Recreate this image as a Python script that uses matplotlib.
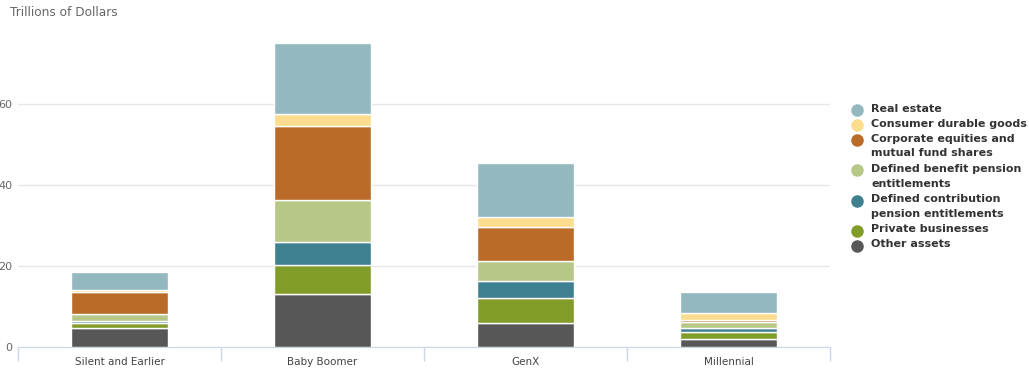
import numpy as np
import matplotlib.pyplot as plt

generations = ['Silent and Earlier', 'Baby Boomer', 'GenX', 'Millennial']

# trillions of dollars, stacked bottom to top
other_assets = [4.7, 13.2, 5.9, 2.0]
private_business = [1.2, 7.0, 6.2, 1.7]
dc_pension = [0.5, 5.7, 4.3, 1.0]
db_pension = [1.7, 10.4, 5.0, 1.5]
corp_equities = [5.5, 18.3, 8.4, 0.6]
durable_goods = [0.6, 2.9, 2.3, 1.6]
real_estate = [4.4, 17.7, 13.5, 5.3]

series = [
    ('Other assets', other_assets, '#575757'),
    ('Private businesses', private_business, '#829c2a'),
    ('Defined contribution\npension entitlements', dc_pension, '#3e8090'),
    ('Defined benefit pension\nentitlements', db_pension, '#b7c787'),
    ('Corporate equities and\nmutual fund shares', corp_equities, '#b96b27'),
    ('Consumer durable goods', durable_goods, '#fcdd8e'),
    ('Real estate', real_estate, '#93b8c0'),
]

W, H = 1029, 370
fig = plt.figure(figsize=(W / 100, H / 100), dpi=100)
ax = fig.add_axes([18 / W, (H - 347.3) / H, (830 - 18) / W, (347.3 - 39.5) / H])

x = np.arange(len(generations))
bottom = np.zeros(len(generations))
for name, vals, col in series:
    ax.bar(x, vals, bottom=bottom, width=0.48, color=col, edgecolor='white', linewidth=1, zorder=3)
    bottom += np.array(vals)

ax.set_xlim(-0.5, len(generations) - 0.5)
ax.set_ylim(0, 76)
ax.set_yticks([0, 20, 40, 60])
ax.grid(axis='y', color='#e6e6e6', linewidth=1, zorder=0)
for s in ['top', 'right', 'left']:
    ax.spines[s].set_visible(False)
ax.spines['bottom'].set_color('#ccd6eb')
ax.set_xticks(x)
ax.set_xticklabels(generations, fontsize=7.5, color='#444444')
ax.set_xticks(np.arange(-0.5, len(generations)), minor=True)
ax.tick_params(axis='x', which='major', length=0, pad=7)
ax.tick_params(axis='x', which='minor', length=10, color='#ccd6eb', width=1)
ax.tick_params(axis='y', length=0, labelsize=8, labelcolor='#666666', pad=4)

fig.text(10 / W, 1 - 13 / H, 'Trillions of Dollars', fontsize=8.7, color='#666666', va='center')

# legend, drawn by hand so the dot sits on the first line of wrapped labels
line_px = 15.1
line_no = 0
for name, vals, col in series[::-1]:
    yc = 1 - (110 + line_no * line_px) / H
    fig.lines.append(plt.Line2D([857 / W], [yc], marker='o', markersize=8, color=col,
                                transform=fig.transFigure))
    fig.text(871 / W, yc + 6.5 / H, name, fontsize=8, fontweight='bold', color='#333333',
             va='top', ha='left', linespacing=1.58)
    line_no += name.count('\n') + 1

fig.savefig('out.png', dpi=100)
